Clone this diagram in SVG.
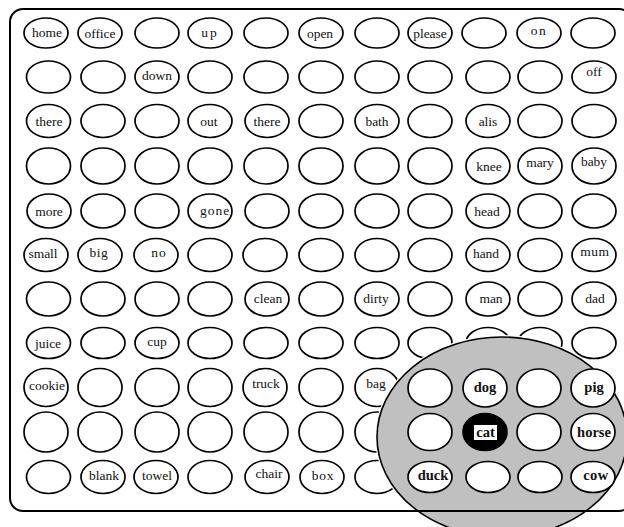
<svg xmlns="http://www.w3.org/2000/svg" width="624" height="527" viewBox="0 0 624 527">
<style>
.n{fill:#fff;stroke:#000;stroke-width:1.7}
.t{font-family:"Liberation Serif","Times New Roman",serif;font-size:13.5px;fill:#111;text-anchor:middle}
.b{font-family:"Liberation Serif","Times New Roman",serif;font-size:14.5px;font-weight:bold;fill:#111;text-anchor:middle}
</style>
<rect width="624" height="527" fill="#fff"/>
<g id="grid">
<g id="n1-1"><ellipse class="n" cx="46" cy="33" rx="22" ry="15"/><text class="t" x="47" y="37">home</text></g>
<g id="n1-2"><ellipse class="n" cx="100" cy="33" rx="22" ry="15"/><text class="t" x="100" y="38">office</text></g>
<g id="n1-3"><ellipse class="n" cx="157" cy="33" rx="22" ry="15"/></g>
<g id="n1-4"><ellipse class="n" cx="210" cy="33" rx="22" ry="15"/><text class="t" x="210" y="37" letter-spacing="2">up</text></g>
<g id="n1-5"><ellipse class="n" cx="266" cy="33" rx="22" ry="15"/></g>
<g id="n1-6"><ellipse class="n" cx="321" cy="33" rx="22" ry="15"/><text class="t" x="320" y="37.5">open</text></g>
<g id="n1-7"><ellipse class="n" cx="377" cy="33" rx="22" ry="15"/></g>
<g id="n1-8"><ellipse class="n" cx="430" cy="33" rx="22" ry="15"/><text class="t" x="430" y="38">please</text></g>
<g id="n1-9"><ellipse class="n" cx="484" cy="33" rx="22" ry="15"/></g>
<g id="n1-10"><ellipse class="n" cx="539" cy="33" rx="22" ry="15"/><text class="t" x="539" y="35" letter-spacing="1.5">on</text></g>
<g id="n1-11"><ellipse class="n" cx="593" cy="33" rx="22" ry="15"/></g>

<g id="n2-1"><ellipse class="n" cx="48.5" cy="77" rx="22" ry="16"/></g>
<g id="n2-2"><ellipse class="n" cx="103" cy="77" rx="22" ry="16"/></g>
<g id="n2-3"><ellipse class="n" cx="157" cy="77" rx="22" ry="16"/><text class="t" x="157" y="80">down</text></g>
<g id="n2-4"><ellipse class="n" cx="210" cy="77" rx="22" ry="16"/></g>
<g id="n2-5"><ellipse class="n" cx="266" cy="77" rx="22" ry="16"/></g>
<g id="n2-6"><ellipse class="n" cx="321" cy="77" rx="22" ry="16"/></g>
<g id="n2-7"><ellipse class="n" cx="377" cy="77" rx="22" ry="16"/></g>
<g id="n2-8"><ellipse class="n" cx="430" cy="77" rx="22" ry="16"/></g>
<g id="n2-9"><ellipse class="n" cx="488" cy="77" rx="22" ry="16"/></g>
<g id="n2-10"><ellipse class="n" cx="540" cy="77" rx="22" ry="16"/></g>
<g id="n2-11"><ellipse class="n" cx="594" cy="77" rx="22" ry="16"/><text class="t" x="594" y="76">off</text></g>

<g id="n3-1"><ellipse class="n" cx="48.5" cy="121" rx="22" ry="16.5"/><text class="t" x="49" y="126">there</text></g>
<g id="n3-2"><ellipse class="n" cx="103" cy="121" rx="22" ry="16.5"/></g>
<g id="n3-3"><ellipse class="n" cx="157" cy="121" rx="22" ry="16.5"/></g>
<g id="n3-4"><ellipse class="n" cx="210" cy="121" rx="22" ry="16.5"/><text class="t" x="209" y="126">out</text></g>
<g id="n3-5"><ellipse class="n" cx="267" cy="121" rx="22" ry="16.5"/><text class="t" x="267" y="126">there</text></g>
<g id="n3-6"><ellipse class="n" cx="321" cy="121" rx="22" ry="16.5"/></g>
<g id="n3-7"><ellipse class="n" cx="377" cy="121" rx="22" ry="16.5"/><text class="t" x="377" y="126">bath</text></g>
<g id="n3-8"><ellipse class="n" cx="430" cy="121" rx="22" ry="16.5"/></g>
<g id="n3-9"><ellipse class="n" cx="488" cy="121" rx="22" ry="16.5"/><text class="t" x="488" y="126">alis</text></g>
<g id="n3-10"><ellipse class="n" cx="540" cy="121" rx="22" ry="16.5"/></g>
<g id="n3-11"><ellipse class="n" cx="594" cy="121" rx="22" ry="16.5"/></g>

<g id="n4-1"><ellipse class="n" cx="48.5" cy="166" rx="22" ry="18"/></g>
<g id="n4-2"><ellipse class="n" cx="103" cy="166" rx="22" ry="18"/></g>
<g id="n4-3"><ellipse class="n" cx="157" cy="166" rx="22" ry="18"/></g>
<g id="n4-4"><ellipse class="n" cx="210" cy="166" rx="22" ry="18"/></g>
<g id="n4-5"><ellipse class="n" cx="266" cy="166" rx="22" ry="18"/></g>
<g id="n4-6"><ellipse class="n" cx="321" cy="166" rx="22" ry="18"/></g>
<g id="n4-7"><ellipse class="n" cx="377" cy="166" rx="22" ry="18"/></g>
<g id="n4-8"><ellipse class="n" cx="430" cy="166" rx="22" ry="18"/></g>
<g id="n4-9"><ellipse class="n" cx="488" cy="166" rx="22" ry="18"/><text class="t" x="489" y="171">knee</text></g>
<g id="n4-10"><ellipse class="n" cx="540" cy="166" rx="22" ry="18"/><text class="t" x="540" y="167">mary</text></g>
<g id="n4-11"><ellipse class="n" cx="594" cy="166" rx="22" ry="18"/><text class="t" x="594" y="166">baby</text></g>

<g id="n5-1"><ellipse class="n" cx="49" cy="211" rx="22" ry="17"/><text class="t" x="49" y="216">more</text></g>
<g id="n5-2"><ellipse class="n" cx="103" cy="211" rx="22" ry="17"/></g>
<g id="n5-3"><ellipse class="n" cx="157" cy="211" rx="22" ry="17"/></g>
<g id="n5-4"><ellipse class="n" cx="210" cy="211" rx="22" ry="17"/><text class="t" x="215" y="215" letter-spacing="1">gone</text></g>
<g id="n5-5"><ellipse class="n" cx="267" cy="211" rx="22" ry="17"/></g>
<g id="n5-6"><ellipse class="n" cx="321" cy="211" rx="22" ry="17"/></g>
<g id="n5-7"><ellipse class="n" cx="377" cy="211" rx="22" ry="17"/></g>
<g id="n5-8"><ellipse class="n" cx="430" cy="211" rx="22" ry="17"/></g>
<g id="n5-9"><ellipse class="n" cx="488" cy="211" rx="22" ry="17"/><text class="t" x="487" y="216">head</text></g>
<g id="n5-10"><ellipse class="n" cx="540" cy="211" rx="22" ry="17"/></g>
<g id="n5-11"><ellipse class="n" cx="594" cy="211" rx="22" ry="17"/></g>

<g id="n6-1"><ellipse class="n" cx="46" cy="255" rx="22" ry="16.5"/><text class="t" x="43" y="258">small</text></g>
<g id="n6-2"><ellipse class="n" cx="100" cy="255" rx="22" ry="16.5"/><text class="t" x="99" y="257" letter-spacing="0.5">big</text></g>
<g id="n6-3"><ellipse class="n" cx="156" cy="255" rx="22" ry="16.5"/><text class="t" x="159" y="257" letter-spacing="1">no</text></g>
<g id="n6-4"><ellipse class="n" cx="210" cy="255" rx="22" ry="16.5"/></g>
<g id="n6-5"><ellipse class="n" cx="265" cy="255" rx="22" ry="16.5"/></g>
<g id="n6-6"><ellipse class="n" cx="321" cy="255" rx="22" ry="16.5"/></g>
<g id="n6-7"><ellipse class="n" cx="377" cy="255" rx="22" ry="16.5"/></g>
<g id="n6-8"><ellipse class="n" cx="430" cy="255" rx="22" ry="16.5"/></g>
<g id="n6-9"><ellipse class="n" cx="488" cy="255" rx="22" ry="16.5"/><text class="t" x="486" y="258">hand</text></g>
<g id="n6-10"><ellipse class="n" cx="540" cy="255" rx="22" ry="16.5"/></g>
<g id="n6-11"><ellipse class="n" cx="594" cy="255" rx="22" ry="16.5"/><text class="t" x="595" y="256" letter-spacing="0.5">mum</text></g>

<g id="n7-1"><ellipse class="n" cx="48.5" cy="299" rx="22" ry="17"/></g>
<g id="n7-2"><ellipse class="n" cx="103" cy="299" rx="22" ry="17"/></g>
<g id="n7-3"><ellipse class="n" cx="157" cy="299" rx="22" ry="17"/></g>
<g id="n7-4"><ellipse class="n" cx="210" cy="299" rx="22" ry="17"/></g>
<g id="n7-5"><ellipse class="n" cx="267" cy="299" rx="22" ry="17"/><text class="t" x="268" y="303">clean</text></g>
<g id="n7-6"><ellipse class="n" cx="321" cy="299" rx="22" ry="17"/></g>
<g id="n7-7"><ellipse class="n" cx="377" cy="299" rx="22" ry="17"/><text class="t" x="376" y="303">dirty</text></g>
<g id="n7-8"><ellipse class="n" cx="430" cy="299" rx="22" ry="17"/></g>
<g id="n7-9"><ellipse class="n" cx="488" cy="299" rx="22" ry="17"/><text class="t" x="491" y="303">man</text></g>
<g id="n7-10"><ellipse class="n" cx="540" cy="299" rx="22" ry="17"/></g>
<g id="n7-11"><ellipse class="n" cx="594" cy="299" rx="22" ry="17"/><text class="t" x="595" y="303">dad</text></g>

<g id="n8-1"><ellipse class="n" cx="48.5" cy="343" rx="22" ry="15.5"/><text class="t" x="48" y="348">juice</text></g>
<g id="n8-2"><ellipse class="n" cx="103" cy="343" rx="22" ry="15.5"/></g>
<g id="n8-3"><ellipse class="n" cx="157" cy="343" rx="22" ry="15.5"/><text class="t" x="157" y="346">cup</text></g>
<g id="n8-4"><ellipse class="n" cx="210" cy="343" rx="22" ry="15.5"/></g>
<g id="n8-5"><ellipse class="n" cx="266" cy="343" rx="22" ry="15.5"/></g>
<g id="n8-6"><ellipse class="n" cx="321" cy="343" rx="22" ry="15.5"/></g>
<g id="n8-7"><ellipse class="n" cx="377" cy="343" rx="22" ry="15.5"/></g>
<g id="n8-8"><ellipse class="n" cx="430" cy="343" rx="22" ry="15.5"/></g>
<g id="n8-9"><ellipse class="n" cx="488" cy="343" rx="22" ry="15.5"/></g>
<g id="n8-10"><ellipse class="n" cx="540" cy="343" rx="22" ry="15.5"/></g>
<g id="n8-11"><ellipse class="n" cx="594" cy="343" rx="22" ry="15.5"/></g>

<g id="n9-1"><ellipse class="n" cx="46" cy="387.5" rx="22" ry="19"/><text class="t" x="47" y="390">cookie</text></g>
<g id="n9-2"><ellipse class="n" cx="100" cy="387.5" rx="22" ry="19"/></g>
<g id="n9-3"><ellipse class="n" cx="157" cy="387.5" rx="22" ry="19"/></g>
<g id="n9-4"><ellipse class="n" cx="210" cy="387.5" rx="22" ry="19"/></g>
<g id="n9-5"><ellipse class="n" cx="265" cy="387.5" rx="22" ry="19"/><text class="t" x="266" y="388">truck</text></g>
<g id="n9-6"><ellipse class="n" cx="321" cy="387.5" rx="22" ry="19"/></g>
<g id="n9-7"><ellipse class="n" cx="377" cy="387.5" rx="22" ry="19"/><text class="t" x="376" y="388">bag</text></g>

<g id="n10-1"><ellipse class="n" cx="46" cy="432" rx="22" ry="20"/></g>
<g id="n10-2"><ellipse class="n" cx="100" cy="432" rx="22" ry="20"/></g>
<g id="n10-3"><ellipse class="n" cx="157" cy="432" rx="22" ry="20"/></g>
<g id="n10-4"><ellipse class="n" cx="210" cy="432" rx="22" ry="20"/></g>
<g id="n10-5"><ellipse class="n" cx="266" cy="432" rx="22" ry="20"/></g>
<g id="n10-6"><ellipse class="n" cx="321" cy="432" rx="22" ry="20"/></g>
<g id="n10-7"><ellipse class="n" cx="377" cy="432" rx="22" ry="20"/></g>

<g id="n11-1"><ellipse class="n" cx="48.5" cy="477" rx="22" ry="16.5"/></g>
<g id="n11-2"><ellipse class="n" cx="103" cy="477" rx="22" ry="16.5"/><text class="t" x="104" y="480">blank</text></g>
<g id="n11-3"><ellipse class="n" cx="156" cy="477" rx="22" ry="16.5"/><text class="t" x="157" y="480">towel</text></g>
<g id="n11-4"><ellipse class="n" cx="210" cy="477" rx="22" ry="16.5"/></g>
<g id="n11-5"><ellipse class="n" cx="267" cy="477" rx="22" ry="16.5"/><text class="t" x="269" y="478">chair</text></g>
<g id="n11-6"><ellipse class="n" cx="322" cy="477" rx="22" ry="16.5"/><text class="t" x="323" y="480" letter-spacing="0.7">box</text></g>
<g id="n11-7"><ellipse class="n" cx="377" cy="477" rx="22" ry="16.5"/></g>
</g>

<g id="zoom-lens">
<ellipse cx="502" cy="437" rx="125" ry="100" fill="none" stroke="#fff" stroke-width="4"/>
<ellipse cx="502" cy="437" rx="125" ry="100" fill="#c0c0c0" stroke="#000" stroke-width="1.6"/>
</g>

<g id="lens-nodes">
<g id="n9-8"><ellipse class="n" cx="430" cy="388" rx="22" ry="19"/></g>
<g id="n9-9"><ellipse class="n" cx="485" cy="388" rx="22" ry="19"/><text class="b" x="485" y="392">dog</text></g>
<g id="n9-10"><ellipse class="n" cx="539" cy="388" rx="22" ry="19"/></g>
<g id="n9-11"><ellipse class="n" cx="593" cy="388" rx="22" ry="19"/><text class="b" x="594" y="392">pig</text></g>
<g id="n10-8"><ellipse class="n" cx="430" cy="432" rx="22" ry="18.5"/></g>
<g id="n10-9"><ellipse cx="485" cy="432" rx="22" ry="18.5" fill="#000" stroke="#000" stroke-width="1.7"/><rect x="474" y="425" width="23" height="15" fill="#fff"/><text class="b" x="485.5" y="437">cat</text></g>
<g id="n10-10"><ellipse class="n" cx="539" cy="432" rx="22" ry="18.5"/></g>
<g id="n10-11"><ellipse class="n" cx="593" cy="432" rx="22" ry="18.5"/><text class="b" x="594" y="437">horse</text></g>
<g id="n11-8"><ellipse class="n" cx="430" cy="477" rx="22" ry="15.5"/><text class="b" x="433" y="480">duck</text></g>
<g id="n11-9"><ellipse class="n" cx="488" cy="477" rx="22" ry="15.5"/></g>
<g id="n11-10"><ellipse class="n" cx="540" cy="477" rx="22" ry="15.5"/></g>
<g id="n11-11"><ellipse class="n" cx="593" cy="477" rx="22" ry="15.5"/><text class="b" x="596" y="480" letter-spacing="0.5">cow</text></g>
</g>

<g id="frame">
<rect x="10" y="9" width="622" height="502" rx="13" fill="none" stroke="#000" stroke-width="2"/>
</g>
</svg>
